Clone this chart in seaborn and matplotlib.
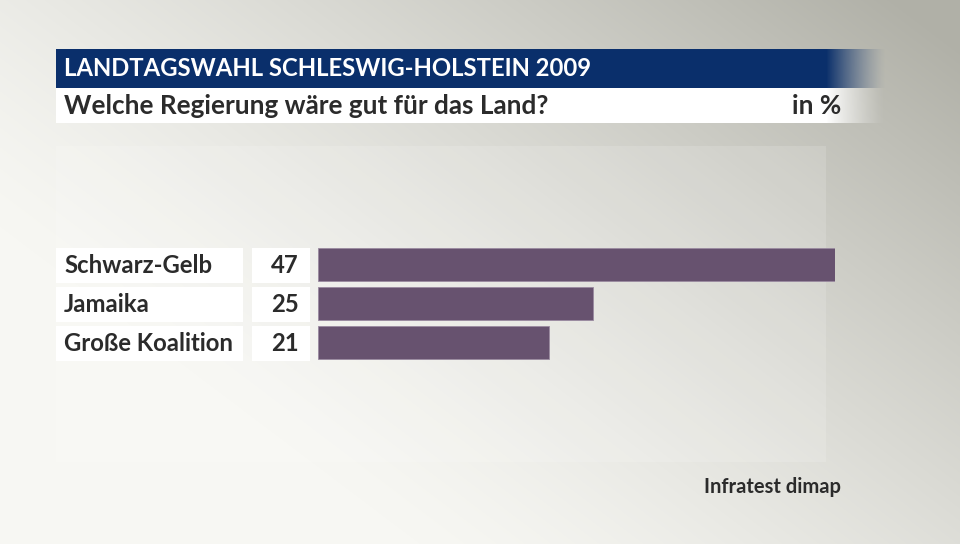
import numpy as np
import pandas as pd
import matplotlib
matplotlib.use("Agg")
import matplotlib.pyplot as plt
from matplotlib.patches import Rectangle
import seaborn as sns

categories = ["Schwarz-Gelb", "Jamaika", "Große Koalition"]
values = [47, 25, 21]
title = "LANDTAGSWAHL SCHLESWIG-HOLSTEIN 2009"
subtitle = "Welche Regierung wäre gut für das Land?"
unit = "in %"
source = "Infratest dimap"

W, H = 960, 544
sns.set_theme(style="white")
plt.rcParams["font.family"] = ["Lato", "DejaVu Sans"]

fig = plt.figure(figsize=(W / 100, H / 100), dpi=100)

# background gradient
bg = fig.add_axes([0, 0, 1, 1], zorder=0)
bg.set_xlim(0, W); bg.set_ylim(H, 0); bg.axis("off")
yy, xx = np.mgrid[0:H, 0:W]
t = np.clip((xx / W) * 0.8 + (1 - yy / H) * 0.6 - 0.35, 0, 1) ** 1.3
light = np.array([247, 247, 243]) / 255
dark = np.array([176, 176, 167]) / 255
img = light[None, None, :] * (1 - t[..., None]) + dark[None, None, :] * t[..., None]
bg.imshow(img, extent=[0, W, H, 0], aspect="auto", zorder=0)
bg.add_patch(Rectangle((56, 146), 770, 316, facecolor="white", alpha=0.15, lw=0, zorder=1))

# banner with fade on right
navy = np.array([10, 47, 107]) / 255
bg.add_patch(Rectangle((56, 49), 770, 39, facecolor=navy, lw=0, zorder=2))
fade = np.zeros((1, 60, 4))
fade[..., :3] = navy
fade[..., 3] = np.linspace(1, 0, 60) ** 1.3
bg.imshow(fade, extent=[826, 886, 88, 49], aspect="auto", zorder=2)
bg.add_patch(Rectangle((56, 88), 770, 35, facecolor="white", lw=0, zorder=2))
fadew = np.ones((1, 60, 4))
fadew[..., 3] = np.linspace(1, 0, 60) ** 1.3
bg.imshow(fadew, extent=[826, 886, 123, 88], aspect="auto", zorder=2)
bg.set_xlim(0, W); bg.set_ylim(H, 0)

bg.text(64, 69, title, color="white", fontsize=17.2, fontweight="bold", va="center", ha="left", zorder=3)
bg.text(64, 106, subtitle, color="#2b2b2b", fontsize=18.8, fontweight="bold", va="center", ha="left", zorder=3)
bg.text(841, 106, unit, color="#2b2b2b", fontsize=18.8, fontweight="bold", va="center", ha="right", zorder=3)
bg.text(841, 487, source, color="#2b2b2b", fontsize=14.5, fontweight="bold", va="center", ha="right", zorder=3)

# label boxes
pitch = 39
c0 = 264.5
for i, (cat, v) in enumerate(zip(categories, values)):
    cy = c0 + i * pitch
    bg.add_patch(Rectangle((56, cy - 17), 187, 35, facecolor="white", lw=0, zorder=2))
    bg.add_patch(Rectangle((252, cy - 17), 58, 35, facecolor="white", lw=0, zorder=2))
    bg.text(64, cy + 1, cat, color="#2b2b2b", fontsize=17.2, fontweight="bold", va="center", ha="left", zorder=3)
    bg.text(299, cy + 1, str(v), color="#2b2b2b", fontsize=17.2, fontweight="bold", va="center", ha="right", zorder=3)

# bars
top_px = c0 - pitch / 2
bot_px = c0 + 2 * pitch + pitch / 2
ax = fig.add_axes([318 / W, 1 - bot_px / H, (835 - 318) / W, (bot_px - top_px) / H], zorder=5)
ax.patch.set_alpha(0)
df = pd.DataFrame({"cat": categories, "val": values})
sns.barplot(data=df, y="cat", x="val", orient="h", color="#67526f", saturation=1,
            width=33 / 39, ax=ax, edgecolor="#9a8aa0", linewidth=0.6)
ax.set_xlim(0, 47)
ax.set_ylim(2.5, -0.5)
ax.axis("off")

fig.savefig("out.png", dpi=100)
